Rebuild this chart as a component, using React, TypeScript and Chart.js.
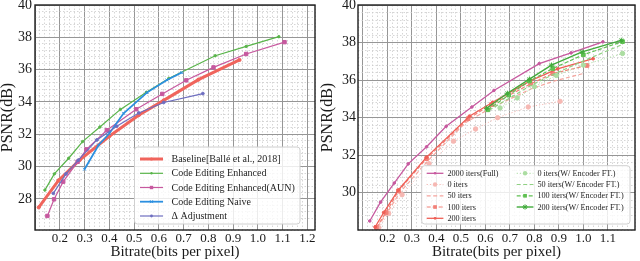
import React, { useEffect, useRef } from 'react';
import { Chart, registerables } from 'chart.js';

Chart.register(...registerables);

const FONT = "'Liberation Serif', 'DejaVu Serif', serif";

// ---------- Left chart data ----------
const baseline = [[0.115, 27.48], [0.195, 29.15], [0.28, 30.4], [0.40, 31.88], [0.52, 33.2], [0.62, 34.1], [0.76, 35.38], [0.926, 36.6]];
const codeEnhanced = [[0.14, 28.55], [0.178, 29.55], [0.236, 30.52], [0.292, 31.55], [0.362, 32.45], [0.445, 33.54], [0.55, 34.6], [0.64, 35.45], [0.828, 36.86], [0.953, 37.44], [1.085, 38.04]];
const codeEnhancedAUN = [[0.15, 26.95], [0.177, 27.98], [0.214, 29.07], [0.272, 30.3], [0.308, 31.07], [0.39, 32.25], [0.509, 33.55], [0.614, 34.5], [0.711, 35.34], [0.821, 36.14], [0.953, 36.97], [1.108, 37.7]];
const codeNaive = [[0.30, 29.84], [0.357, 31.34], [0.40, 32.05], [0.458, 33.3], [0.552, 34.58], [0.633, 35.36], [0.693, 35.82]];
const deltaAdj = [[0.174, 28.35], [0.225, 29.55], [0.275, 30.4], [0.35, 31.65], [0.43, 32.5], [0.519, 33.32], [0.62, 33.97], [0.778, 34.52]];

const leftLabels = ['Baseline[Ballé et al., 2018]', 'Code Editing Enhanced', 'Code Editing Enhanced(AUN)', 'Code Editing Naive', 'Δ Adjustment'];

// ---------- Right chart data ----------
const full2000 = [[0.128, 28.5], [0.172, 29.5], [0.228, 30.52], [0.285, 31.54], [0.36, 32.45], [0.44, 33.54], [0.545, 34.57], [0.635, 35.45], [0.82, 36.88], [0.95, 37.45], [1.08, 38.04]];
const iters0 = [[0.165, 28.15], [0.205, 28.9], [0.26, 29.9], [0.37, 31.55], [0.47, 32.75], [0.56, 33.4], [0.65, 34.0], [0.775, 34.57], [0.905, 34.87]];
const iters50 = [[0.16, 28.2], [0.2, 28.95], [0.25, 30.0], [0.365, 31.7], [0.52, 33.75], [0.62, 34.5], [0.79, 35.55], [0.88, 35.95], [1.0, 36.35]];
const iters100 = [[0.155, 28.15], [0.195, 28.95], [0.245, 30.1], [0.36, 31.82], [0.53, 33.95], [0.625, 34.7], [0.785, 35.8], [0.875, 36.35], [1.015, 36.78]];
const iters200 = [[0.15, 28.18], [0.185, 28.95], [0.245, 30.15], [0.36, 31.9], [0.535, 34.08], [0.63, 34.82], [0.785, 35.97], [0.895, 36.6], [1.04, 37.14]];
const ft0 = [[0.66, 34.52], [0.73, 35.05], [0.8, 35.65], [0.89, 36.25], [1.0, 36.8], [1.16, 37.42]];
const ft50 = [[0.615, 34.4], [0.7, 35.05], [0.79, 35.75], [0.885, 36.35], [1.005, 37.05], [1.16, 37.9]];
const ft100 = [[0.61, 34.42], [0.695, 35.2], [0.78, 35.95], [0.875, 36.62], [1.0, 37.35], [1.16, 38.05]];
const ft200 = [[0.605, 34.5], [0.69, 35.3], [0.78, 36.05], [0.87, 36.8], [0.995, 37.5], [1.155, 38.12]];

const rightLabels = ['2000 iters(Full)', '0 iters', '50 iters', '100 iters', '200 iters',
  '0 iters(W/ Encoder FT.)', '50 iters(W/ Encoder FT.)', '100 iters(W/ Encoder FT.)', '200 iters(W/ Encoder FT.)'];

const xTickMajor = [0.2, 0.3, 0.4, 0.5, 0.6, 0.7, 0.8, 0.9, 1.0, 1.1, 1.2];
const yTickMajor = [28, 30, 32, 34, 36, 38, 40];

const pts = (a: number[][]) => a.map(([x, y]) => ({ x, y }));
const isMajX = (v: number) => Math.abs(v * 10 - Math.round(v * 10)) < 1e-6;
const isMajY = (v: number) => Math.abs(v / 2 - Math.round(v / 2)) < 1e-6;
const inList = (v: number, list: number[]) => list.some((t) => Math.abs(t - v) < 1e-6);

function ds(label: string, data: number[][], color: string, width: number, style: any, radius: number, dash: number[] = []) {
  return {
    label,
    data: pts(data),
    borderColor: color,
    backgroundColor: color,
    pointBackgroundColor: color,
    pointBorderColor: color,
    borderWidth: width,
    borderDash: dash,
    pointStyle: style,
    pointRadius: radius,
    pointBorderWidth: 1,
    tension: 0,
    fill: false,
  };
}

function drawMarker(ctx: CanvasRenderingContext2D, style: string, r: number, x: number, y: number, color: string) {
  if (!r) return;
  ctx.save();
  ctx.setLineDash([]);
  ctx.fillStyle = color;
  ctx.strokeStyle = color;
  ctx.lineWidth = 1;
  ctx.beginPath();
  if (style === 'rect') {
    const s = r * Math.SQRT1_2;
    ctx.rect(x - s, y - s, 2 * s, 2 * s);
    ctx.fill();
  } else if (style === 'crossRot') {
    const s = r * Math.SQRT1_2;
    ctx.moveTo(x - s, y - s); ctx.lineTo(x + s, y + s);
    ctx.moveTo(x + s, y - s); ctx.lineTo(x - s, y + s);
    ctx.stroke();
  } else if (style === 'star') {
    const s = r * Math.SQRT1_2;
    ctx.moveTo(x - s, y - s); ctx.lineTo(x + s, y + s);
    ctx.moveTo(x + s, y - s); ctx.lineTo(x - s, y + s);
    ctx.moveTo(x - r, y); ctx.lineTo(x + r, y);
    ctx.moveTo(x, y - r); ctx.lineTo(x, y + r);
    ctx.stroke();
  } else {
    ctx.arc(x, y, r, 0, Math.PI * 2);
    ctx.fill();
  }
  ctx.restore();
}

const framePlugin = {
  id: 'frame',
  afterDatasetsDraw(chart: any) {
    const { ctx, chartArea: a } = chart;
    ctx.save();
    ctx.strokeStyle = '#1e1e1e';
    ctx.lineWidth = 1.4;
    ctx.setLineDash([]);
    ctx.strokeRect(a.left, a.top, a.right - a.left, a.bottom - a.top);
    ctx.restore();
  },
};

const boxLegendPlugin = {
  id: 'boxLegend',
  afterDraw(chart: any, _args: any, opts: any) {
    if (!opts || !opts.items) return;
    const { ctx } = chart;
    const b = opts.box;
    ctx.save();
    ctx.beginPath();
    const r = 3;
    ctx.moveTo(b.l + r, b.t);
    ctx.lineTo(b.r - r, b.t);
    ctx.quadraticCurveTo(b.r, b.t, b.r, b.t + r);
    ctx.lineTo(b.r, b.b - r);
    ctx.quadraticCurveTo(b.r, b.b, b.r - r, b.b);
    ctx.lineTo(b.l + r, b.b);
    ctx.quadraticCurveTo(b.l, b.b, b.l, b.b - r);
    ctx.lineTo(b.l, b.t + r);
    ctx.quadraticCurveTo(b.l, b.t, b.l + r, b.t);
    ctx.closePath();
    ctx.fillStyle = 'rgba(255,255,255,0.82)';
    ctx.fill();
    ctx.strokeStyle = '#d0d0d0';
    ctx.lineWidth = 1;
    ctx.stroke();
    ctx.font = opts.font;
    ctx.textBaseline = 'middle';
    ctx.textAlign = 'left';
    opts.items.forEach((it: any) => {
      const d = chart.data.datasets[it.index];
      ctx.save();
      ctx.strokeStyle = d.borderColor;
      ctx.lineWidth = d.borderWidth;
      ctx.setLineDash(d.borderDash || []);
      ctx.beginPath();
      ctx.moveTo(it.x, it.y);
      ctx.lineTo(it.x + opts.lineLen, it.y);
      ctx.stroke();
      ctx.restore();
      drawMarker(ctx, d.pointStyle, d.pointRadius, it.x + opts.lineLen / 2, it.y, d.borderColor);
      ctx.fillStyle = '#1e1e1e';
      ctx.fillText(d.label, it.x + opts.lineLen + opts.gap, it.y + 0.5);
    });
    ctx.restore();
  },
};

function makeConfig(datasets: any[], p: any) {
  return {
    type: 'line',
    data: { datasets },
    plugins: [framePlugin, boxLegendPlugin],
    options: {
      animation: false,
      responsive: false,
      devicePixelRatio: 1,
      layout: { padding: { top: 5, right: 5, left: 0, bottom: 0 } },
      plugins: {
        legend: { display: false },
        tooltip: { enabled: false },
        boxLegend: p.legend,
      },
      scales: {
        x: {
          type: 'linear',
          min: p.xMin,
          max: p.xMax,
          afterFit: (s: any) => { s.height = 31; s.paddingLeft = 0; s.paddingRight = 0; },
          ticks: {
            stepSize: 0.02,
            maxTicksLimit: 1000,
            autoSkip: false,
            maxRotation: 0,
            minRotation: 0,
            padding: 2,
            color: '#1a1a1a',
            font: { family: FONT, size: 13, lineHeight: 1 },
            callback: (v: number) => (inList(v, xTickMajor) ? Number(v).toFixed(1) : ''),
          },
          grid: {
            drawTicks: false,
            color: (c: any) => (c.tick && isMajX(c.tick.value) ? '#969696' : '#cbcbcb'),
            lineWidth: (c: any) => (c.tick && isMajX(c.tick.value) ? 1 : 0.8),
          },
          border: {
            display: false,
            dash: (c: any) => (c.tick && !isMajX(c.tick.value) ? [1.5, 2] : []),
          },
          title: {
            display: true,
            text: 'Bitrate(bits per pixel)',
            color: '#1a1a1a',
            font: { family: FONT, size: 15, lineHeight: 1 },
            padding: { top: 0, bottom: 1 },
          },
        },
        y: {
          type: 'linear',
          min: p.yMin,
          max: 40,
          afterFit: (s: any) => { s.width = p.yWidth; s.paddingTop = 0; s.paddingBottom = 0; },
          ticks: {
            stepSize: 0.4,
            maxTicksLimit: 1000,
            autoSkip: false,
            padding: p.yPad,
            color: '#1a1a1a',
            font: { family: FONT, size: 14, lineHeight: 1 },
            callback: (v: number) => (inList(v, yTickMajor) ? String(Math.round(v)) : ''),
          },
          grid: {
            drawTicks: false,
            color: (c: any) => (c.tick && isMajY(c.tick.value) ? '#969696' : '#cbcbcb'),
            lineWidth: (c: any) => (c.tick && isMajY(c.tick.value) ? 1 : 0.8),
          },
          border: {
            display: false,
            dash: (c: any) => (c.tick && !isMajY(c.tick.value) ? [1.5, 2] : []),
          },
          title: {
            display: true,
            text: 'PSNR(dB)',
            color: '#1a1a1a',
            font: { family: FONT, size: 16, lineHeight: 1 },
            padding: { top: 0, bottom: 0 },
          },
        },
      },
    },
  };
}

function withOrder(list: any[]) {
  return list.map((d, i) => ({ ...d, order: list.length - i }));
}

function leftConfig() {
  const datasets = withOrder([
    ds(leftLabels[0], baseline, '#f0645c', 3, 'circle', 1.6),
    ds(leftLabels[1], codeEnhanced, '#58b449', 1.2, 'circle', 1.2),
    ds(leftLabels[2], codeEnhancedAUN, '#c7599f', 1.2, 'rect', 2.4),
    ds(leftLabels[3], codeNaive, '#2b8fe0', 1.8, 'crossRot', 2),
    ds(leftLabels[4], deltaAdj, '#6e6ec0', 1.2, 'circle', 1.4),
  ]);
  const rows = [159, 173.3, 187.5, 201.7, 216];
  return makeConfig(datasets, {
    xMin: 0.1, xMax: 1.231, yMin: 26.08, yWidth: 35, yPad: 3,
    legend: {
      box: { l: 134.5, t: 147, r: 300, b: 224 },
      font: `10px ${FONT}`,
      lineLen: 23,
      gap: 8.5,
      items: rows.map((y, i) => ({ index: i, x: 140, y })),
    },
  });
}

function rightConfig() {
  const datasets = withOrder([
    ds(rightLabels[0], full2000, '#c7599f', 1.3, 'circle', 1.3),
    ds(rightLabels[1], iters0, '#f6b8b3', 1, 'circle', 2.2, [1.2, 2]),
    ds(rightLabels[2], iters50, '#f5a49d', 1.2, 'circle', 0, [4, 2.5]),
    ds(rightLabels[3], iters100, '#f28178', 1.2, 'rect', 2.6, [4, 2]),
    ds(rightLabels[4], iters200, '#ef5e55', 1.3, 'circle', 1.4),
    ds(rightLabels[5], ft0, '#acdda2', 1, 'circle', 2.2, [1.2, 2]),
    ds(rightLabels[6], ft50, '#90d183', 1.2, 'circle', 0, [4, 2.5]),
    ds(rightLabels[7], ft100, '#60c052', 1.2, 'rect', 2.6, [4, 2]),
    ds(rightLabels[8], ft200, '#41ab3b', 1.4, 'star', 2.6),
  ]);
  const rows = [173.3, 184.5, 195.8, 207, 218.3];
  const items = rows.map((y, i) => ({ index: i, x: 106.7, y }))
    .concat(rows.slice(0, 4).map((y, i) => ({ index: i + 5, x: 196.7, y })));
  return makeConfig(datasets, {
    xMin: 0.08, xMax: 1.211, yMin: 28.02, yWidth: 38, yPad: 2,
    legend: {
      box: { l: 101.7, t: 165.7, r: 310, b: 224 },
      font: `8.2px ${FONT}`,
      lineLen: 16.7,
      gap: 4,
      items,
    },
  });
}

function ChartCanvas({ make }: { make: () => any }) {
  const ref = useRef<HTMLCanvasElement | null>(null);
  useEffect(() => {
    if (!ref.current) return;
    const chart = new Chart(ref.current, make());
    return () => chart.destroy();
  }, []);
  return <canvas ref={ref} width={320} height={261} style={{ display: 'block', width: 320, height: 261 }} />;
}

export default function App() {
  useEffect(() => {
    document.body.style.margin = '0';
    document.body.style.background = '#ffffff';
  }, []);
  return (
    <div style={{ position: 'fixed', left: 0, top: 0, width: 640, height: 261, display: 'flex', background: '#fff' }}>
      <ChartCanvas make={leftConfig} />
      <ChartCanvas make={rightConfig} />
    </div>
  );
}
